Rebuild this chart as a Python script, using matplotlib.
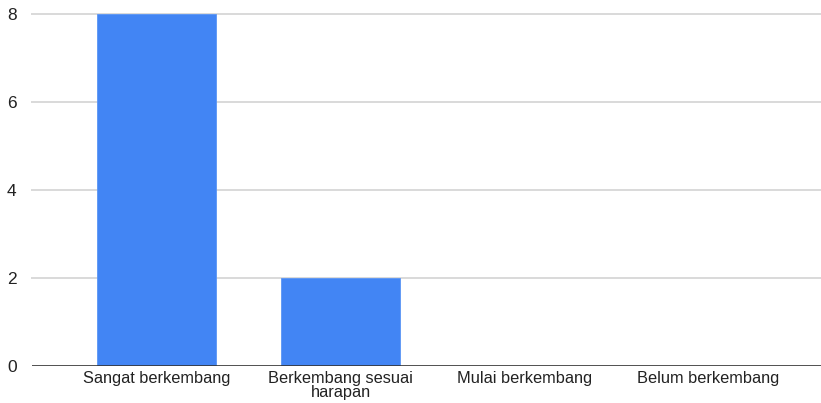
import matplotlib
matplotlib.use("Agg")
import matplotlib.pyplot as plt

categories = ["Sangat berkembang", "Berkembang sesuai\nharapan", "Mulai berkembang", "Belum berkembang"]
values = [8, 2, 0, 0]
y_ticks = [0, 2, 4, 6, 8]

W, H = 821, 403
fig = plt.figure(figsize=(W / 100, H / 100), dpi=100)
left_px, right_px, top_px, bottom_px = 32, 821, 14, 366
ax = fig.add_axes([left_px / W, (H - bottom_px) / H,
                   (right_px - left_px) / W, (bottom_px - top_px) / H])

x = list(range(len(categories)))
ax.bar(x, values, width=0.647, color="#4285F4", edgecolor="#5a95f5",
       linewidth=0.6, zorder=3)

ax.set_ylim(0, 8)
ax.set_xlim(-0.677, 3.611)
ax.set_yticks(y_ticks)
ax.set_yticklabels([str(t) for t in y_ticks], fontsize=12.5, color="#222222",
                   family="Liberation Sans")
ax.set_xticks(x)
ax.set_xticklabels(categories, fontsize=11.8, color="#222222",
                   family="Liberation Sans", linespacing=0.95)

for t in y_ticks[1:]:
    ax.axhline(t, color="#d9d9d9", linewidth=1.4, zorder=1, clip_on=False)
ax.axhline(0, color="#333333", linewidth=1.2, zorder=4)

for s in ax.spines.values():
    s.set_visible(False)
ax.tick_params(axis="both", length=0)
ax.tick_params(axis="y", pad=11)
ax.tick_params(axis="x", pad=3.5)

fig.savefig("out.png", dpi=100)
